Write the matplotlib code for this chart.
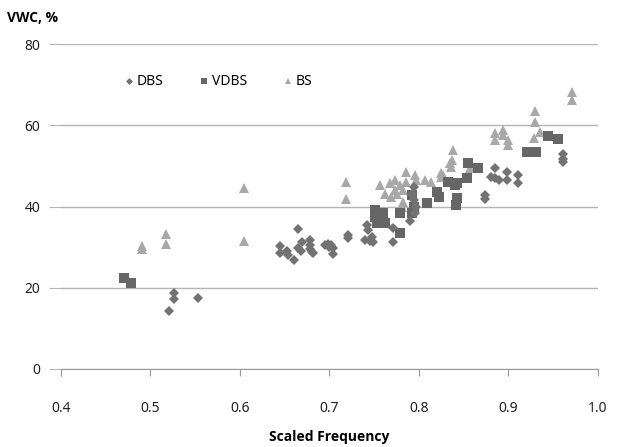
import matplotlib
matplotlib.use("Agg")
import matplotlib.pyplot as plt
from matplotlib.lines import Line2D

plt.rcParams['font.family'] = ['Noto Sans', 'DejaVu Sans']

# DBS series
dbs_x = [0.521, 0.526, 0.526, 0.553, 0.645, 0.645, 0.653, 0.654, 0.660, 0.665,
         0.665, 0.668, 0.669, 0.678, 0.678, 0.678, 0.680, 0.682, 0.695, 0.698,
         0.700, 0.702, 0.704, 0.704, 0.721, 0.721, 0.740, 0.742, 0.743, 0.747,
         0.745, 0.749, 0.771, 0.771, 0.790, 0.796, 0.797, 0.794, 0.792, 0.794,
         0.874, 0.874, 0.885, 0.881, 0.885, 0.889, 0.898, 0.898, 0.911, 0.911,
         0.961, 0.961, 0.961]
dbs_y = [14.4, 17.2, 18.6, 17.6, 30.3, 28.5, 29.1, 28.1, 26.8, 29.7,
         34.4, 29.1, 31.3, 31.8, 30.5, 29.5, 28.9, 28.6, 30.5, 30.8,
         30.0, 30.5, 29.7, 28.3, 33.0, 32.2, 31.8, 35.4, 34.2, 32.6,
         31.4, 31.3, 34.6, 31.3, 36.4, 38.3, 40.0, 41.6, 43.2, 44.9,
         42.8, 41.8, 49.6, 47.3, 46.9, 46.5, 48.6, 46.5, 47.8, 45.7,
         52.9, 51.6, 51.0]

# VDBS series
vdbs_x = [0.470, 0.478, 0.751, 0.751, 0.753, 0.760, 0.762, 0.758, 0.779, 0.779,
          0.792, 0.794, 0.792, 0.809, 0.820, 0.822, 0.833, 0.840, 0.842, 0.842,
          0.841, 0.855, 0.854, 0.866, 0.921, 0.931, 0.944, 0.955]
vdbs_y = [22.5, 21.2, 39.1, 37.5, 35.9, 38.3, 35.9, 37.1, 38.3, 33.4,
          42.8, 40.0, 38.3, 40.8, 43.6, 42.4, 46.1, 45.3, 45.7, 42.0,
          40.4, 50.6, 46.9, 49.4, 53.3, 53.5, 57.4, 56.5]

# BS series
bs_x = [0.490, 0.490, 0.517, 0.517, 0.604, 0.604, 0.719, 0.719, 0.756, 0.762,
        0.768, 0.769, 0.773, 0.773, 0.775, 0.779, 0.782, 0.782, 0.781, 0.786,
        0.786, 0.796, 0.797, 0.807, 0.813, 0.825, 0.825, 0.827, 0.835, 0.836,
        0.838, 0.837, 0.857, 0.857, 0.885, 0.885, 0.894, 0.894, 0.900, 0.900,
        0.928, 0.930, 0.930, 0.935, 0.971, 0.971]
bs_y = [29.5, 30.3, 33.2, 30.8, 31.6, 44.5, 46.1, 41.9, 45.3, 43.2,
        45.7, 42.4, 46.5, 44.1, 43.2, 45.3, 44.1, 41.2, 40.0, 48.6,
        46.1, 47.8, 46.5, 46.5, 46.1, 48.2, 47.3, 47.8, 50.6, 49.8,
        53.9, 51.4, 50.6, 49.4, 58.0, 56.4, 58.9, 57.6, 56.4, 55.2,
        56.8, 63.4, 60.9, 58.4, 68.3, 66.2]

x_ticks = [0.4, 0.5, 0.6, 0.7, 0.8, 0.9, 1.0]
y_ticks = [0, 20, 40, 60, 80]

c_dbs = '#727272'
c_vdbs = '#666666'
c_bs = '#a8a8a8'
bold_font = ['Open Sans', 'DejaVu Sans']

fig = plt.figure(figsize=(6.19, 4.47), dpi=100)
ax = fig.add_axes([0.0985, 0.1745, 0.8675, 0.727])

ax.plot(bs_x, bs_y, '^', color=c_bs, markersize=6.8, markeredgewidth=0, zorder=3)
ax.plot(vdbs_x, vdbs_y, 's', color=c_vdbs, markersize=6.8, markeredgewidth=0, zorder=3)
ax.plot(dbs_x, dbs_y, 'D', color=c_dbs, markersize=4.6, markeredgewidth=0, zorder=4)

ax.set_xlim(0.4, 1.0)
ax.set_ylim(0, 80)
ax.set_xticks(x_ticks)
ax.set_xticklabels(['%.1f' % v for v in x_ticks])
ax.set_yticks(y_ticks)
ax.yaxis.grid(True, color='#b5b5b5', linewidth=1.0)
ax.set_axisbelow(True)

for s in ['top', 'right', 'left']:
    ax.spines[s].set_visible(False)
ax.spines['bottom'].set_color('#9a9a9a')
ax.tick_params(axis='x', direction='out', length=5, color='#9a9a9a',
               labelsize=10, pad=18, labelcolor='#222222')
ax.tick_params(axis='y', direction='out', length=9, color='#b5b5b5',
               labelsize=10, pad=6, labelcolor='#222222')

ax.set_xlabel('Scaled Frequency', fontsize=10, fontweight='bold',
              family=bold_font, labelpad=10)
fig.text(0.012, 0.96, 'VWC, %', fontsize=10, fontweight='bold',
         family=bold_font, ha='left', va='center')

handles = [
    Line2D([], [], marker='D', color=c_dbs, linestyle='None', markersize=3.5, markeredgewidth=0),
    Line2D([], [], marker='s', color=c_vdbs, linestyle='None', markersize=5, markeredgewidth=0),
    Line2D([], [], marker='^', color=c_bs, linestyle='None', markersize=5, markeredgewidth=0),
]
ax.legend(handles, ['DBS', 'VDBS', 'BS'], ncol=3, frameon=False, fontsize=10,
          loc='upper left', bbox_to_anchor=(0.095, 0.945), handlelength=0.6,
          handletextpad=0.3, columnspacing=2.6)

fig.savefig('out.png', dpi=100)
